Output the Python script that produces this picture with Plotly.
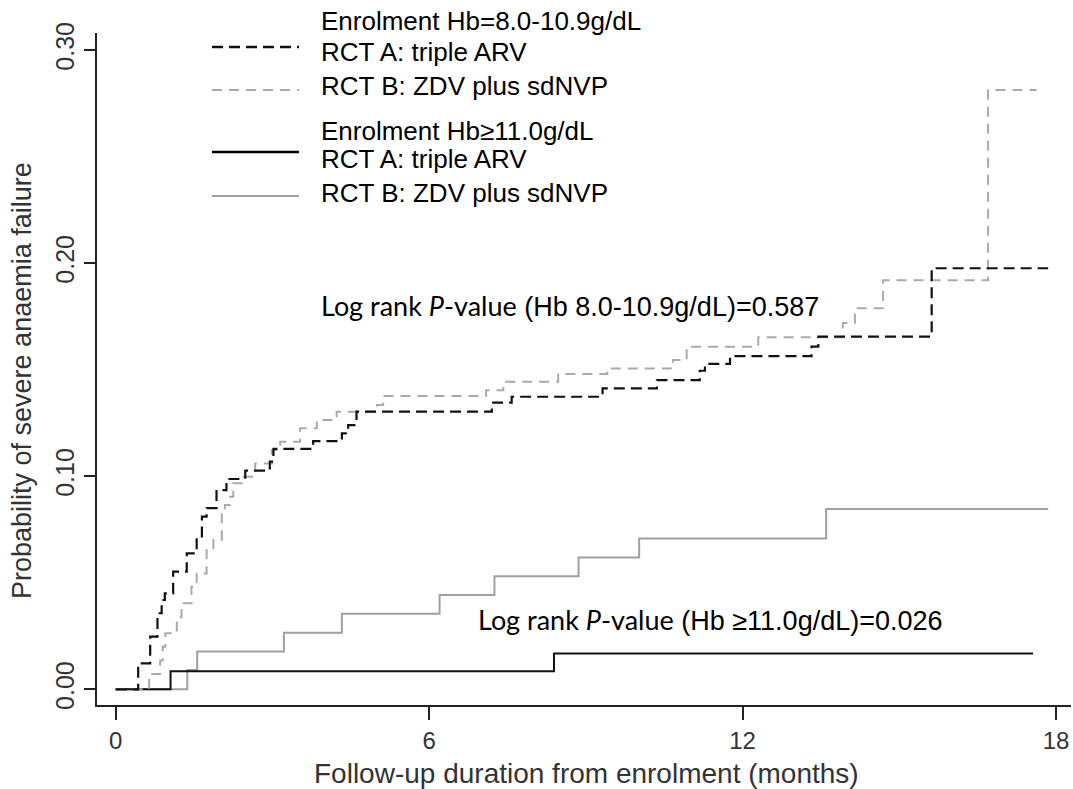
import plotly.graph_objects as go

# ---- data (months, cumulative probability of severe anaemia failure) ----
a_low_t = [0, 0.43, 0.66, 0.80, 0.88, 0.94, 1.10, 1.36, 1.55, 1.65, 1.74, 1.93, 2.12, 2.48, 2.95, 3.02,
           3.78, 4.33, 4.45, 4.61, 7.20, 7.58, 9.32, 10.36, 11.18, 11.28, 11.76, 13.32, 13.45, 15.62, 17.85]
a_low_p = [0, 0.0122, 0.0247, 0.0357, 0.0419, 0.045, 0.0552, 0.0638, 0.0709, 0.081, 0.085, 0.0935, 0.0987,
           0.1026, 0.1068, 0.1128, 0.1165, 0.1201, 0.124, 0.1303, 0.1345, 0.1373, 0.1412, 0.1451, 0.1495,
           0.1527, 0.1564, 0.1608, 0.1655, 0.1976, 0.1976]

b_low_t = [0, 0.64, 0.85, 0.90, 0.95, 1.17, 1.26, 1.45, 1.55, 1.74, 1.87, 2.03, 2.09, 2.19, 2.25, 2.44, 2.67,
           2.99, 3.15, 3.53, 3.85, 4.23, 5.00, 5.12, 7.09, 7.42, 8.47, 9.41, 10.67, 10.93, 12.30, 13.92,
           14.15, 14.69, 16.70, 17.63]
b_low_p = [0, 0.0072, 0.0135, 0.020, 0.0263, 0.0338, 0.0404, 0.0481, 0.0544, 0.0654, 0.0701, 0.0826, 0.0865,
           0.0904, 0.0967, 0.0998, 0.106, 0.1123, 0.1162, 0.1225, 0.1264, 0.1303, 0.1334, 0.1376, 0.1404,
           0.1443, 0.148, 0.1506, 0.1545, 0.1608, 0.1652, 0.1719, 0.1788, 0.192, 0.2812, 0.2812]

a_high_t = [0, 1.05, 8.39, 17.56]
a_high_p = [0, 0.0085, 0.0168, 0.0168]

b_high_t = [0, 1.37, 1.56, 3.22, 4.33, 6.20, 7.25, 8.86, 10.02, 13.60, 17.85]
b_high_p = [0, 0.0090, 0.0177, 0.0265, 0.0354, 0.0442, 0.0531, 0.0619, 0.0708, 0.0846, 0.0846]

x_ticks = [0, 6, 12, 18]
y_ticks = [0.0, 0.1, 0.2, 0.3]
y_tick_text = ["0.00", "0.10", "0.20", "0.30"]

FONT = "Liberation Sans, Arial, sans-serif"
BLACK = "#111111"
GRAY_D = "#aaaaaa"
GRAY_S = "#a0a0a0"

fig = go.Figure()
fig.add_trace(go.Scatter(x=b_high_t, y=b_high_p, mode="lines", line_shape="hv",
                         line=dict(color=GRAY_S, width=2), name="RCT B Hb>=11"))
fig.add_trace(go.Scatter(x=a_high_t, y=a_high_p, mode="lines", line_shape="hv",
                         line=dict(color=BLACK, width=2), name="RCT A Hb>=11"))
fig.add_trace(go.Scatter(x=b_low_t, y=b_low_p, mode="lines", line_shape="hv",
                         line=dict(color=GRAY_D, width=2, dash="10px,7px"), name="RCT B Hb 8-10.9"))
fig.add_trace(go.Scatter(x=a_low_t, y=a_low_p, mode="lines", line_shape="hv",
                         line=dict(color=BLACK, width=2.2, dash="11px,6px"), name="RCT A Hb 8-10.9"))

L, R, T, B = 97, 2, 33, 84
W, H = 1073, 789
pw = W - L - R
ph = H - T - B


def xp(px):
    return (px - L) / pw


def yp(py):
    return (H - B - py) / ph


shapes = []
legend_lines = [
    (47, BLACK, "11px,6px", 2.4),
    (90, GRAY_D, "10px,7px", 2.2),
    (152, "#000000", "solid", 2.6),
    (196, GRAY_S, "solid", 2.2),
]
for py, col, dash, w in legend_lines:
    shapes.append(dict(type="line", xref="paper", yref="paper", x0=xp(212), x1=xp(299),
                       y0=yp(py), y1=yp(py), line=dict(color=col, width=w, dash=dash)))

annotations = []
legend_texts = [
    (21, "Enrolment Hb=8.0-10.9g/dL"),
    (52, "RCT A: triple ARV"),
    (86, "RCT B: ZDV plus sdNVP"),
    (131, "Enrolment Hb\u226511.0g/dL"),
    (159, "RCT A: triple ARV"),
    (193, "RCT B: ZDV plus sdNVP"),
]
for py, txt in legend_texts:
    annotations.append(dict(text=txt, xref="paper", yref="paper", x=xp(319), y=yp(py),
                            xanchor="left", yanchor="middle", showarrow=False,
                            font=dict(family=FONT, size=26, color="#000000")))

lr = "<span style='font-family:Lato, Carlito, sans-serif'>Log rank <i>P</i>-value</span>"
annotations.append(dict(text=lr + " (Hb 8.0-10.9g/dL)=0.587",
                        xref="paper", yref="paper", x=xp(570), y=yp(305),
                        xanchor="center", yanchor="middle", showarrow=False,
                        font=dict(family=FONT, size=27, color="#000000")))
annotations.append(dict(text=lr + " (Hb \u226511.0g/dL)=0.026",
                        xref="paper", yref="paper", x=xp(710), y=yp(619),
                        xanchor="center", yanchor="middle", showarrow=False,
                        font=dict(family=FONT, size=27, color="#000000")))
annotations.append(dict(text="Follow-up duration from enrolment (months)",
                        xref="paper", yref="paper", x=xp(586), y=yp(773),
                        xanchor="center", yanchor="middle", showarrow=False,
                        font=dict(family=FONT, size=28, color="#333333")))
annotations.append(dict(text="Probability of severe anaemia failure",
                        xref="paper", yref="paper", x=xp(22), y=yp(381),
                        xanchor="center", yanchor="middle", showarrow=False, textangle=-90,
                        font=dict(family=FONT, size=27, color="#333333")))

fig.update_layout(
    width=W, height=H,
    margin=dict(l=L, r=R, t=T, b=B, autoexpand=False),
    paper_bgcolor="white", plot_bgcolor="white",
    showlegend=False,
    shapes=shapes, annotations=annotations,
    xaxis=dict(range=[-0.358, 18.287], tickvals=x_ticks, ticktext=[str(v) for v in x_ticks],
               showline=True, linecolor="#222222", linewidth=2, ticks="outside", ticklen=13,
               tickwidth=1.5, tickcolor="#222222", showgrid=False, zeroline=False,
               tickfont=dict(family=FONT, size=24, color="#333333"), fixedrange=True),
    yaxis=dict(range=[-0.00737, 0.308], tickvals=y_ticks, ticktext=y_tick_text, tickangle=-90,
               showline=True, linecolor="#222222", linewidth=2, ticks="outside", ticklen=11,
               tickwidth=1.5, tickcolor="#222222", showgrid=False, zeroline=False,
               tickfont=dict(family=FONT, size=25, color="#333333"), fixedrange=True),
)

fig.write_html("out.html", config={"displayModeBar": False},
               post_script="document.body.style.margin='0';document.body.style.overflow='hidden';")
